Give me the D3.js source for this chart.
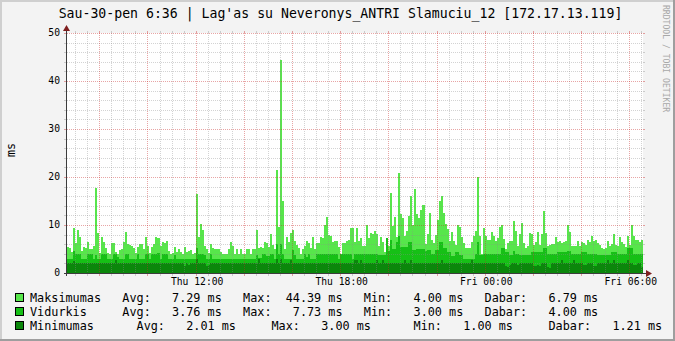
<!DOCTYPE html>
<html>
<head>
<meta charset="utf-8">
<script src="https://cdn.jsdelivr.net/npm/d3@7"></script>
<style>
  html, body { margin: 0; padding: 0; background: #f3f3f3; }
  svg text { font-family: "DejaVu Sans Mono", monospace; white-space: pre; }
</style>
</head>
<body>
<div id="chart"></div>
<script>
const title = "Sau-30-pen 6:36 | Lag'as su Neveronys_ANTRI Slamuciu_12 [172.17.13.119]";
const yLabel = "ms";
const watermark = "RRDTOOL / TOBI OETIKER";

// 5 minute samples starting Thu 06:40
const startTime = new Date(2015, 0, 29, 6, 40);
const stepMinutes = 5;
const viewStart = new Date(2015, 0, 29, 6, 39, 36);
const viewEnd = new Date(2015, 0, 30, 6, 34, 12);

const maxValues = [
  5.4, 5.3, 4.3, 9.4, 6.3, 9.0, 7.6, 4.6, 5.5, 5.2, 6.5, 5.1,
  5.1, 5.7, 17.8, 8.3, 4.2, 7.4, 6.5, 5.3, 4.2, 4.0, 6.3, 6.3,
  4.4, 4.0, 4.8, 5.0, 6.5, 8.6, 6.0, 5.8, 5.6, 5.3, 4.1, 5.5,
  6.0, 6.0, 5.1, 7.4, 5.6, 4.2, 5.5, 6.0, 7.6, 7.2, 5.6, 6.5,
  6.3, 6.7, 4.6, 4.0, 4.1, 5.5, 4.4, 4.9, 4.3, 4.0, 5.5, 4.4,
  4.5, 4.8, 4.0, 4.2, 16.5, 7.4, 10.3, 8.9, 5.7, 5.1, 4.2, 6.1,
  5.3, 5.1, 5.1, 5.1, 4.4, 4.0, 4.0, 4.0, 4.9, 6.5, 5.6, 4.0,
  4.9, 4.0, 4.9, 4.0, 4.0, 4.9, 5.1, 4.0, 4.9, 5.0, 9.0, 5.3,
  5.4, 5.3, 6.5, 6.3, 5.4, 8.2, 5.9, 4.9, 21.5, 9.5, 44.39, 14.9,
  5.0, 7.4, 6.5, 8.4, 9.0, 6.7, 5.9, 5.3, 4.0, 4.9, 5.7, 6.7,
  6.2, 5.2, 7.4, 4.9, 6.3, 6.3, 7.6, 7.2, 10.1, 11.7, 8.0, 7.8,
  6.5, 6.6, 6.7, 5.5, 4.0, 6.3, 6.3, 6.7, 6.9, 9.4, 9.3, 6.4,
  9.4, 6.7, 7.2, 5.7, 5.7, 9.9, 7.2, 8.4, 8.2, 8.8, 8.2, 5.7,
  7.4, 6.5, 4.4, 7.2, 5.7, 16.7, 9.7, 11.7, 7.6, 20.9, 12.3, 11.4,
  7.8, 8.7, 11.9, 16.1, 10.0, 17.6, 12.2, 11.5, 13.2, 14.2, 6.1, 8.1,
  12.4, 6.9, 6.3, 7.9, 11.1, 15.1, 16.1, 12.5, 10.3, 9.2, 6.7, 8.6,
  6.7, 5.8, 9.9, 9.5, 7.6, 6.3, 5.3, 5.2, 5.2, 6.5, 7.8, 8.8,
  20.0, 7.7, 4.0, 9.4, 7.8, 6.9, 6.9, 8.5, 7.8, 6.7, 7.3, 9.5,
  10.1, 7.0, 4.9, 6.2, 6.6, 6.6, 10.9, 8.8, 5.7, 8.2, 10.5, 6.2,
  5.3, 5.7, 8.3, 8.2, 5.8, 6.5, 8.5, 5.8, 8.2, 13.0, 8.3, 5.6,
  5.9, 6.0, 6.0, 7.6, 6.5, 6.7, 6.3, 6.5, 6.7, 10.1, 8.5, 5.7,
  5.7, 5.7, 6.7, 5.7, 6.4, 6.2, 5.8, 6.9, 6.4, 7.8, 6.7, 6.9,
  6.3, 5.8, 5.2, 5.1, 5.2, 6.7, 5.6, 6.0, 8.2, 5.9, 5.7, 7.6,
  6.5, 6.1, 5.5, 7.8, 5.9, 9.9, 7.8, 6.9, 6.9, 6.4, 6.79
];

const avgValues = [
  3.0, 3.0, 3.0, 4.6, 4.0, 4.0, 4.0, 3.0, 3.0, 3.0, 4.0, 4.0,
  4.0, 3.0, 3.8, 3.0, 3.0, 3.9, 4.0, 4.0, 3.0, 3.0, 3.0, 4.0,
  4.0, 3.4, 3.0, 3.0, 3.0, 4.0, 4.0, 3.0, 3.0, 3.0, 3.0, 3.9,
  3.0, 3.0, 3.0, 4.0, 4.0, 3.0, 3.9, 3.9, 3.9, 4.1, 3.0, 4.0,
  4.0, 4.0, 3.0, 3.0, 3.0, 3.8, 3.0, 3.0, 3.0, 3.0, 3.0, 3.0,
  3.0, 3.0, 3.0, 3.0, 5.2, 4.0, 4.0, 4.0, 3.7, 3.0, 3.0, 4.0,
  3.0, 3.0, 3.0, 3.0, 3.0, 3.0, 3.0, 3.0, 3.0, 3.0, 3.0, 3.0,
  3.0, 3.0, 3.0, 3.0, 3.0, 3.0, 3.0, 3.0, 3.0, 3.0, 3.8, 3.2,
  3.2, 4.0, 4.0, 3.5, 3.5, 4.0, 4.0, 3.0, 6.1, 4.0, 6.1, 4.0,
  3.0, 3.0, 3.0, 3.0, 4.7, 3.8, 3.0, 3.0, 3.0, 3.0, 4.0, 3.4,
  4.0, 3.0, 3.0, 3.0, 4.0, 4.0, 4.0, 4.0, 4.0, 4.0, 4.0, 4.0,
  4.0, 4.0, 4.0, 3.0, 4.0, 4.0, 4.0, 4.0, 4.0, 4.0, 3.0, 4.0,
  4.0, 4.0, 4.0, 4.0, 4.0, 4.0, 4.0, 4.0, 4.0, 4.0, 4.0, 3.8,
  3.8, 3.8, 3.8, 7.2, 4.5, 6.9, 4.9, 4.9, 6.5, 7.73, 5.4, 5.4,
  5.4, 5.4, 6.5, 6.5, 4.7, 4.7, 5.1, 5.1, 5.1, 5.1, 4.5, 4.8,
  4.8, 4.0, 4.0, 4.8, 4.8, 6.5, 6.5, 5.2, 5.2, 4.4, 4.4, 3.5,
  3.5, 4.4, 4.4, 3.8, 3.8, 3.0, 3.0, 3.0, 3.0, 3.0, 3.0, 4.0,
  6.5, 3.8, 3.8, 4.0, 4.0, 4.0, 4.0, 4.0, 4.0, 4.0, 4.0, 4.0,
  5.2, 5.2, 4.4, 4.4, 3.8, 3.8, 4.5, 3.9, 3.9, 3.8, 3.8, 3.8,
  3.8, 3.8, 3.8, 4.4, 4.4, 4.4, 4.4, 4.4, 4.4, 5.2, 5.2, 4.0,
  4.0, 4.0, 4.0, 4.0, 4.4, 4.4, 4.4, 4.4, 4.4, 4.6, 4.6, 4.0,
  4.0, 4.0, 4.0, 4.0, 4.4, 4.4, 4.4, 4.0, 4.0, 4.0, 4.0, 4.0,
  3.8, 3.8, 3.8, 3.8, 3.8, 3.8, 3.8, 4.4, 4.4, 4.4, 4.0, 4.0,
  4.0, 4.0, 4.0, 5.2, 5.2, 5.2, 4.0, 4.0, 4.0, 4.0, 4.0
];

const minValues = [
  2, 2, 2, 2.6, 2, 2, 2, 2, 2, 2, 2, 2,
  2, 2, 2, 2, 2, 2, 2, 2, 2, 2, 2, 2,
  2.8, 2, 2, 2, 2, 2, 2, 2, 2, 2, 2, 2,
  2, 2, 2, 2, 2, 2, 2, 2, 2, 2, 2, 2,
  2, 2, 2, 2, 2, 2, 2, 2, 2, 2, 1.4, 2,
  1.7, 2, 2, 2, 3, 2, 2, 2, 2, 1.4, 1.7, 2,
  2, 2, 2, 2, 2, 2, 2, 2, 2, 2, 2, 2,
  2, 2, 2, 2, 2, 2, 2, 2, 2, 2, 2, 3,
  2, 2, 2, 2, 2, 2, 2, 2, 3, 2, 3, 2,
  2, 2, 2, 2.8, 2, 2, 2, 2, 2, 2, 2, 2,
  2, 2, 2, 2, 2, 2, 2, 2, 2, 2, 2, 2,
  2, 2, 2, 2, 2, 2, 2, 2, 2, 2, 2, 2.8,
  2.8, 2, 2.8, 2, 2, 2, 2, 2, 2, 2, 2.8, 2,
  2, 2.8, 2, 2, 2, 2, 2, 2, 2, 2, 2, 2,
  2.8, 2, 2, 2.8, 2, 2, 2, 2, 2, 2, 2, 2,
  2, 2, 2, 2, 2, 2, 2.8, 2, 2, 2, 2, 2,
  2, 2, 2, 2, 2, 2, 2, 2, 2, 2.8, 2, 2,
  2, 2, 2, 2, 2, 2, 2, 2, 2, 2, 2, 2,
  2, 2, 1.5, 1.3, 1.7, 2, 2, 2, 1.6, 2, 2, 2,
  2, 2, 2, 2, 1.5, 1.4, 1.6, 1.5, 2, 2, 2, 1.3,
  1.0, 2, 2, 2, 2, 2, 2.8, 2, 2, 2, 2, 2,
  2.8, 2, 2, 2, 2, 1.7, 1.6, 2, 2, 2, 1.4, 1.5,
  2, 2, 2, 2, 2, 2.8, 2, 2, 2.8, 2, 2, 2,
  2, 2, 2, 2.8, 2, 2, 1.7, 1.6, 2, 2, 1.21
];

const yTickLabels = [0, 10, 20, 30, 40, 50];

const seriesNames = ["Maksimumas", "Vidurkis", "Minimumas"];
const seriesColors = ["#57e64b", "#16c016", "#0b870b"];
const legendTexts = [
  "Maksimumas   Avg:   7.29 ms   Max:  44.39 ms   Min:   4.00 ms   Dabar:   6.79 ms",
  "Vidurkis     Avg:   3.76 ms   Max:   7.73 ms   Min:   3.00 ms   Dabar:   4.00 ms",
  "Minimumas      Avg:   2.01 ms     Max:   3.00 ms      Min:   1.00 ms     Dabar:   1.21 ms"
];

const W = 675, H = 341;
const X0 = 67, X1 = 643, YT = 33, YB = 273;

const svg = d3.select("#chart")
  .append("svg")
  .attr("width", W)
  .attr("height", H)
  .attr("viewBox", `0 0 ${W} ${H}`);

// background + rrdtool style shading
svg.append("rect").attr("width", W).attr("height", H).attr("fill", "#f3f3f3");
svg.append("path").attr("d", `M0,0H${W}V2H2V${H}H0Z`).attr("fill", "#cfcfcf");
svg.append("path").attr("d", `M${W},${H}H0V${H - 2}H${W - 2}V0H${W}Z`).attr("fill", "#9e9e9e");

const x = d3.scaleTime().domain([viewStart, viewEnd]).range([X0, X1]);
const y = d3.scaleLinear().domain([0, 50]).range([YB, YT]);

svg.append("rect")
  .attr("x", X0).attr("y", YT)
  .attr("width", X1 - X0).attr("height", YB - YT)
  .attr("fill", "#ffffff");

svg.append("clipPath").attr("id", "plotclip")
  .append("rect")
  .attr("x", X0).attr("y", YT - 1)
  .attr("width", X1 - X0).attr("height", YB - YT + 1);

// build rows for each series (extra point closes the last step)
function rows(values) {
  const r = values.map((v, i) => ({ t: d3.timeMinute.offset(startTime, i * stepMinutes), v }));
  r.push({ t: d3.timeMinute.offset(startTime, values.length * stepMinutes), v: values[values.length - 1] });
  return r;
}

const area = d3.area()
  .x(d => x(d.t))
  .y0(y(0))
  .y1(d => y(d.v))
  .curve(d3.curveStepAfter);

const plot = svg.append("g").attr("clip-path", "url(#plotclip)");
[maxValues, avgValues, minValues].forEach((vals, k) => {
  plot.append("path")
    .datum(rows(vals))
    .attr("d", area)
    .attr("fill", seriesColors[k])
    .attr("shape-rendering", "crispEdges");
});

// grid, drawn over the data like rrdtool does
const minorColor = "rgba(140,140,140,0.38)";
const majorColor = "rgba(200,40,40,0.42)";
const grid = svg.append("g").attr("shape-rendering", "crispEdges");

const yMinor = d3.range(0, 51, 2).filter(v => v % 10 !== 0);
const yMajor = d3.range(0, 51, 10);
const xMinor = d3.timeMinute.every(30).range(viewStart, viewEnd).filter(t => t.getMinutes() !== 0 || t.getHours() % 2 !== 0);
const xMajor = d3.timeHour.every(2).range(viewStart, viewEnd);

function hLines(vals, color) {
  vals.forEach(v => {
    const py = Math.round(y(v)) + 0.5;
    grid.append("line").attr("x1", X0).attr("x2", X1).attr("y1", py).attr("y2", py)
      .attr("stroke", color).attr("stroke-dasharray", "1,1");
    grid.append("line").attr("x1", X0 - 3).attr("x2", X0).attr("y1", py).attr("y2", py).attr("stroke", color);
    grid.append("line").attr("x1", X1).attr("x2", X1 + 2).attr("y1", py).attr("y2", py).attr("stroke", color);
  });
}
function vLines(ts, color) {
  ts.forEach(t => {
    const px = Math.round(x(t)) + 0.5;
    grid.append("line").attr("x1", px).attr("x2", px).attr("y1", YT).attr("y2", YB)
      .attr("stroke", color).attr("stroke-dasharray", "1,1");
    grid.append("line").attr("x1", px).attr("x2", px).attr("y1", YB).attr("y2", YB + 3).attr("stroke", color);
    grid.append("line").attr("x1", px).attr("x2", px).attr("y1", YT - 2).attr("y2", YT).attr("stroke", color);
  });
}
hLines(yMinor, minorColor);
vLines(xMinor, minorColor);
hLines(yMajor.filter(v => v > 0), majorColor);
vLines(xMajor, majorColor);

// axes
const axisColor = "#3c3c3c";
svg.append("line").attr("x1", X0 - 3).attr("x2", X1 + 4)
  .attr("y1", YB + 0.5).attr("y2", YB + 0.5).attr("stroke", axisColor);
svg.append("line").attr("x1", X0 - 0.5).attr("x2", X0 - 0.5)
  .attr("y1", YB + 3).attr("y2", YT - 4).attr("stroke", axisColor);
svg.append("path").attr("d", `M${X1 + 3},${YB - 3}L${X1 + 9},${YB + 0.5}L${X1 + 3},${YB + 4}Z`).attr("fill", "#7f1f1f");
svg.append("path").attr("d", `M${X0 - 4},${YT - 2}L${X0 - 0.5},${YT - 8}L${X0 + 3},${YT - 2}Z`).attr("fill", "#7f1f1f");

// y tick labels
svg.append("g").selectAll("text")
  .data(yTickLabels)
  .join("text")
  .attr("x", 60)
  .attr("y", d => y(d))
  .attr("dy", "0.35em")
  .attr("text-anchor", "end")
  .attr("font-size", "9.7px")
  .attr("fill", "#000")
  .text(d => d);

// x tick labels
const fmt = d3.timeFormat("%a %H:%M");
svg.append("g").selectAll("text")
  .data(d3.timeHour.every(6).range(viewStart, viewEnd))
  .join("text")
  .attr("x", d => x(d) + 1.5)
  .attr("y", 285)
  .attr("text-anchor", "middle")
  .attr("font-size", "9.7px")
  .attr("fill", "#000")
  .text(d => fmt(d));

// title
svg.append("text")
  .attr("x", 340.5)
  .attr("y", 18)
  .attr("text-anchor", "middle")
  .attr("font-size", "13.2px")
  .attr("fill", "#000")
  .text(title);

// vertical label
svg.append("text")
  .attr("transform", "translate(15,150) rotate(-90)")
  .attr("text-anchor", "middle")
  .attr("font-size", "11.7px")
  .attr("fill", "#000")
  .text(yLabel);

// watermark
svg.append("text")
  .attr("transform", "translate(663,5) rotate(90)")
  .attr("font-size", "8.1px")
  .attr("fill", "#a8a8a8")
  .text(watermark);

// legend
const legend = svg.append("g");
seriesNames.forEach((name, k) => {
  const ly = 298 + k * 14;
  legend.append("rect")
    .attr("x", 15.5).attr("y", ly - 4.5)
    .attr("width", 8).attr("height", 8)
    .attr("fill", seriesColors[k])
    .attr("stroke", "#000").attr("stroke-width", 1);
  legend.append("text")
    .attr("x", 30)
    .attr("y", ly + 4)
    .attr("font-size", "11.8px")
    .attr("fill", "#000")
    .text(legendTexts[k]);
});
</script>
</body>
</html>
